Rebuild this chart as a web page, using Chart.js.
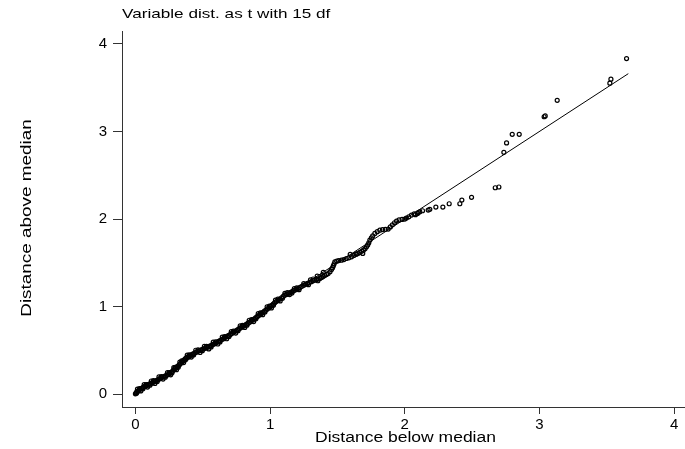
<!DOCTYPE html>
<html>
<head>
<meta charset="utf-8">
<script src="https://cdn.jsdelivr.net/npm/chart.js@4.4.1/dist/chart.umd.min.js"></script>
<style>
  html, body { margin: 0; padding: 0; background: #fff; }
  #wrap { width: 685px; height: 449px; }
</style>
</head>
<body>
<div id="wrap"><canvas id="sym-chart"></canvas></div>
<script>
// distance below / above the median
const belowMedian = [
    0.000, 0.006, 0.012, 0.020, 0.028, 0.035, 0.044, 0.052, 0.060, 0.069, 0.078, 0.086, 0.095,
    0.104, 0.113, 0.122, 0.131, 0.140, 0.150, 0.160, 0.170, 0.180, 0.190, 0.200, 0.211, 0.222, 0.233, 0.244, 0.255, 0.265,
    0.274, 0.283, 0.292, 0.300, 0.308, 0.316, 0.325, 0.334, 0.344, 0.353, 0.362, 0.371, 0.380, 0.390, 0.400, 0.410, 0.421, 0.432, 0.443, 0.453, 0.463,
    0.474, 0.485, 0.497, 0.508, 0.519, 0.530, 0.541, 0.552, 0.562, 0.573, 0.584, 0.595, 0.606, 0.617, 0.628, 0.639, 0.650, 0.661,
    0.672, 0.683, 0.694, 0.705, 0.716, 0.727, 0.738, 0.749, 0.760, 0.771, 0.782, 0.793, 0.804, 0.815, 0.826, 0.837, 0.848, 0.859,
    0.870, 0.881, 0.892, 0.903, 0.914, 0.925, 0.936, 0.947, 0.958, 0.969, 0.980, 0.991, 1.002, 1.013, 1.023, 1.033,
    1.046, 1.059, 1.072, 1.085, 1.097, 1.109, 1.122, 1.135, 1.148, 1.160, 1.172, 1.185, 1.197, 1.208,
    1.222, 1.236, 1.250, 1.264, 1.278, 1.292, 1.306, 1.319, 1.332, 1.346, 1.358, 1.370, 1.382, 1.394, 1.406, 1.419, 1.431,
    1.300, 1.350, 1.395,
    1.445, 1.456, 1.464, 1.470, 1.476, 1.481, 1.495, 1.510, 1.530, 1.548, 1.566, 1.585, 1.605, 1.622, 1.638, 1.652, 1.666,
    1.680, 1.693, 1.705, 1.716, 1.725, 1.733, 1.741, 1.752, 1.762, 1.778, 1.796, 1.815, 1.835, 1.856, 1.877,
    1.893, 1.908, 1.924, 1.939, 1.958, 1.980, 2.000, 2.012, 2.030, 2.050, 2.070,
    1.595, 1.640, 1.688,
    2.080, 2.095, 2.100,
    2.112, 2.132, 2.174, 2.186, 2.231, 2.283, 2.330, 2.409, 2.424, 2.496, 2.672, 2.699,
    2.736, 2.756, 2.798, 2.850, 3.035, 3.043, 3.132, 3.523, 3.531, 3.647,
    0.015, 0.040, 0.065, 0.090, 0.118, 0.145, 0.175, 0.205, 0.238, 0.262, 0.285, 0.305, 0.330, 0.358, 0.385,
    0.415, 0.448, 0.480, 0.512, 0.545, 0.578, 0.612, 0.645, 0.678, 0.712, 0.745, 0.778, 0.812, 0.845, 0.878,
    0.912, 0.945, 0.978, 1.010, 1.040, 1.075, 1.110, 1.145, 1.180, 1.215, 1.250, 1.285, 1.320, 1.355, 1.390,
    0.008, 0.030, 0.056, 0.080, 0.108, 0.134, 0.162, 0.192, 0.222, 0.250, 0.272, 0.295, 0.318, 0.344, 0.372,
    0.400, 0.432, 0.465, 0.497, 0.528, 0.562, 0.596, 0.628, 0.662, 0.695, 0.728, 0.762, 0.795, 0.828, 0.862,
    0.895, 0.928, 0.962, 0.995, 1.025, 1.058, 1.092, 1.128, 1.162, 1.198
];
const aboveMedian = [
    0.005, 0.018, 0.030, 0.038, 0.047, 0.060, 0.066, 0.075, 0.081, 0.090, 0.094, 0.104, 0.110,
    0.117, 0.121, 0.130, 0.137, 0.145, 0.153, 0.160, 0.168, 0.178, 0.186, 0.195, 0.203, 0.210, 0.218, 0.226, 0.238, 0.251,
    0.262, 0.276, 0.290, 0.300, 0.312, 0.322, 0.335, 0.349, 0.366, 0.380, 0.394, 0.407, 0.418, 0.428, 0.436, 0.445, 0.455, 0.465, 0.474, 0.483, 0.491,
    0.498, 0.505, 0.513, 0.520, 0.527, 0.533, 0.541, 0.549, 0.556, 0.566, 0.575, 0.584, 0.594, 0.603, 0.613, 0.622, 0.632, 0.643,
    0.654, 0.663, 0.674, 0.684, 0.695, 0.706, 0.716, 0.728, 0.739, 0.749, 0.760, 0.770, 0.781, 0.791, 0.802, 0.812, 0.823, 0.834,
    0.847, 0.859, 0.873, 0.886, 0.898, 0.911, 0.923, 0.936, 0.949, 0.962, 0.975, 0.987, 1.000, 1.015, 1.029, 1.043,
    1.058, 1.072, 1.088, 1.102, 1.117, 1.131, 1.140, 1.150, 1.160, 1.170, 1.180, 1.190, 1.199, 1.208,
    1.220, 1.232, 1.244, 1.255, 1.266, 1.276, 1.286, 1.295, 1.303, 1.311, 1.318, 1.322, 1.334, 1.344, 1.356, 1.368, 1.379,
    1.305, 1.350, 1.392,
    1.400, 1.425, 1.445, 1.468, 1.490, 1.512, 1.520, 1.526, 1.531, 1.538, 1.550, 1.558, 1.569, 1.585, 1.598, 1.606, 1.619,
    1.633, 1.645, 1.662, 1.683, 1.705, 1.730, 1.760, 1.785, 1.808, 1.836, 1.856, 1.874, 1.880, 1.883, 1.886,
    1.910, 1.935, 1.958, 1.977, 1.990, 1.996, 2.000, 2.012, 2.026, 2.046, 2.060,
    1.598, 1.602, 1.608,
    2.050, 2.065, 2.075,
    2.083, 2.095, 2.103, 2.111, 2.137, 2.137, 2.175, 2.175, 2.217, 2.248, 2.358, 2.366,
    2.762, 2.869, 2.968, 2.968, 3.168, 3.178, 3.356, 3.551, 3.597, 3.832,
    0.058, 0.038, 0.111, 0.082, 0.152, 0.124, 0.198, 0.174, 0.247, 0.222, 0.304, 0.281, 0.368, 0.362, 0.448,
    0.425, 0.503, 0.477, 0.547, 0.518, 0.595, 0.574, 0.653, 0.634, 0.716, 0.699, 0.781, 0.763, 0.845, 0.830,
    0.921, 0.909, 0.998, 0.986, 1.076, 1.066, 1.152, 1.138, 1.206, 1.194, 1.264, 1.251, 1.316, 1.296, 1.361,
    0.012, 0.065, 0.063, 0.112, 0.104, 0.155, 0.147, 0.203, 0.195, 0.248, 0.245, 0.309, 0.310, 0.381, 0.393,
    0.451, 0.450, 0.507, 0.498, 0.547, 0.541, 0.600, 0.598, 0.659, 0.660, 0.722, 0.726, 0.787, 0.789, 0.853,
    0.861, 0.929, 0.939, 1.007, 1.016, 1.086, 1.096, 1.160, 1.155, 1.215
];

// symmetry reference line y = x
const refLineX = [0, 3.66];
const refLineY = [0, 3.66];

const xTicks = [0, 1, 2, 3, 4];
const yTicks = [0, 1, 2, 3, 4];

const subtitleText = 'Variable dist. as t with 15 df';
const xTitleText = 'Distance below median';
const yTitleText = 'Distance above median';

const FONT = '"Liberation Sans", Arial, sans-serif';

const points = belowMedian.map((x, i) => ({ x: x, y: aboveMedian[i] }));
const refLine = refLineX.map((x, i) => ({ x: x, y: refLineY[i] }));

// the original text is a bit wider than normal, so draw titles stretched
const stretchedTitles = {
    id: 'stretchedTitles',
    afterDraw(chart) {
        const ctx = chart.ctx;
        const area = chart.chartArea;
        ctx.save();
        ctx.fillStyle = '#000';
        ctx.textBaseline = 'middle';

        ctx.save();
        ctx.font = '13.5px ' + FONT;
        ctx.textAlign = 'left';
        ctx.translate(area.left, 14);
        ctx.scale(1.27, 1);
        ctx.fillText(subtitleText, 0, 0);
        ctx.restore();

        ctx.save();
        ctx.font = '14px ' + FONT;
        ctx.textAlign = 'center';
        ctx.translate((area.left + area.right) / 2 + 2, chart.height - 11);
        ctx.scale(1.25, 1);
        ctx.fillText(xTitleText, 0, 0);
        ctx.restore();

        ctx.save();
        ctx.font = '15px ' + FONT;
        ctx.textAlign = 'center';
        ctx.translate(27, (area.top + area.bottom) / 2 - 1);
        ctx.rotate(-Math.PI / 2);
        ctx.scale(1.26, 1);
        ctx.fillText(yTitleText, 0, 0);
        ctx.restore();

        ctx.restore();
    }
};

new Chart(document.getElementById('sym-chart'), {
    type: 'scatter',
    data: {
        datasets: [
            {
                label: 'observations',
                data: points,
                pointStyle: 'circle',
                pointRadius: 2,
                borderWidth: 1.2,
                borderColor: '#000',
                backgroundColor: 'rgba(0,0,0,0)'
            },
            {
                label: 'y = x',
                data: refLine,
                showLine: true,
                pointRadius: 0,
                borderWidth: 1,
                borderColor: '#000'
            }
        ]
    },
    plugins: [stretchedTitles],
    options: {
        animation: false,
        maintainAspectRatio: false,
        layout: { autoPadding: false, padding: { top: 31, left: 0, right: 0, bottom: 0 } },
        plugins: {
            legend: { display: false },
            tooltip: { enabled: false }
        },
        scales: {
            x: {
                type: 'linear',
                min: -0.0996,
                max: 4.081,
                afterBuildTicks: (scale) => { scale.ticks = xTicks.map(v => ({ value: v })); },
                afterFit: (scale) => {
                    scale.height = 42;
                    scale.paddingLeft = 0;
                    scale.paddingRight = 0;
                },
                ticks: {
                    color: '#000',
                    padding: 2,
                    font: { family: FONT, size: 15 }
                },
                grid: {
                    drawOnChartArea: false,
                    drawTicks: true,
                    tickLength: 7,
                    color: '#333'
                },
                border: { display: true, color: '#333', width: 1 }
            },
            y: {
                type: 'linear',
                min: -0.145,
                max: 4.147,
                afterBuildTicks: (scale) => { scale.ticks = yTicks.map(v => ({ value: v })); },
                afterFit: (scale) => {
                    scale.width = 122;
                    scale.paddingTop = 0;
                    scale.paddingBottom = 0;
                },
                ticks: {
                    color: '#000',
                    padding: 6,
                    font: { family: FONT, size: 15 }
                },
                grid: {
                    drawOnChartArea: false,
                    drawTicks: true,
                    tickLength: 9,
                    color: '#333'
                },
                border: { display: true, color: '#333', width: 1 }
            }
        }
    }
});
</script>
</body>
</html>
